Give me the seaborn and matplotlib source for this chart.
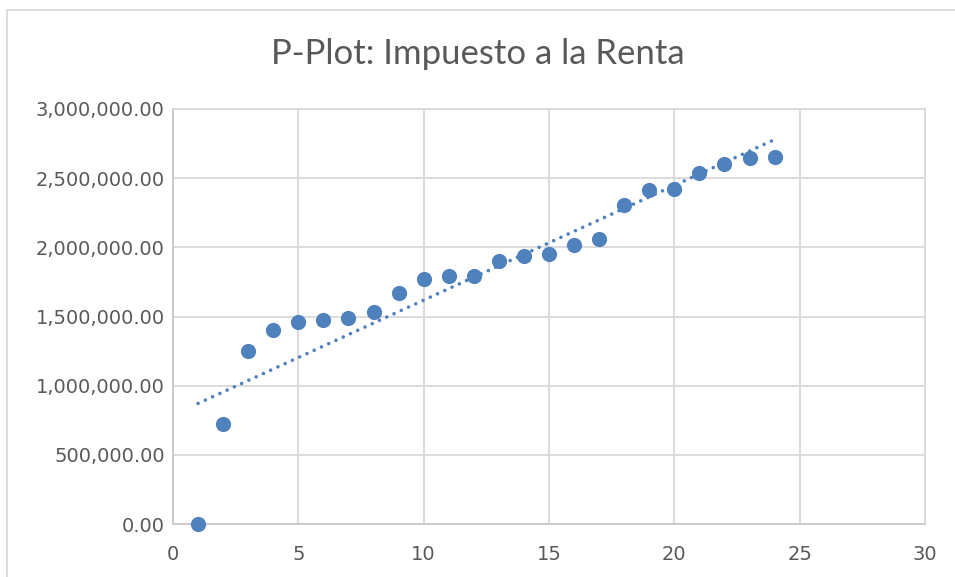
import numpy as np
import pandas as pd
import matplotlib
matplotlib.use('Agg')
import matplotlib.pyplot as plt
from matplotlib.ticker import FuncFormatter, MultipleLocator
from matplotlib.patches import Rectangle
import seaborn as sns

# rank position and tax value
posicion = list(range(1, 25))
impuesto = [0, 720700, 1250000, 1400000, 1460000, 1475000, 1491000, 1532000,
            1668000, 1773000, 1790000, 1795000, 1901000, 1940000, 1954000,
            2019000, 2060000, 2308000, 2414000, 2422000, 2537000, 2602000,
            2643000, 2655000]

df = pd.DataFrame({'pos': posicion, 'renta': impuesto})

sns.set_style('white')
plt.rcParams['font.family'] = ['DejaVu Sans']

blue = '#4f81bd'
grid = '#d9d9d9'
txt = '#595959'

fig = plt.figure(figsize=(9.55, 5.77), dpi=100)
ax = fig.add_axes([173/955, 1-524/577, (925-173)/955, (524-109)/577])

sns.regplot(data=df, x='pos', y='renta', ax=ax, ci=None, truncate=True,
            scatter_kws={'s': 120, 'color': blue, 'alpha': 1, 'linewidths': 0,
                         'clip_on': False, 'zorder': 4},
            line_kws={'color': blue, 'lw': 2.6, 'ls': (0, (0.01, 2.2)),
                      'dash_capstyle': 'round', 'zorder': 3})

ax.set_xlim(0, 30)
ax.set_ylim(0, 3000000)
ax.xaxis.set_major_locator(MultipleLocator(5))
ax.yaxis.set_major_locator(MultipleLocator(500000))
ax.yaxis.set_major_formatter(FuncFormatter(lambda v, p: f'{v:,.2f}'))
ax.grid(True, color=grid, lw=1.3)
ax.set_axisbelow(True)
for s in ax.spines.values():
    s.set_color(grid)
    s.set_linewidth(1.3)
ax.spines['left'].set_color('#c8c8c8')
ax.spines['bottom'].set_color('#c8c8c8')
ax.tick_params(length=0, labelsize=14, colors=txt)
ax.tick_params(axis='y', pad=6)
ax.tick_params(axis='x', pad=15)
ax.set_xlabel('')
ax.set_ylabel('')

fig.text(0.5, 1-54/577, 'P-Plot: Impuesto a la Renta', ha='center', va='center',
         fontsize=25, color=txt, family='Lato')

# chart frame
fig.patches.append(Rectangle((7/955, -0.05), 1.1, 1-10/577+0.05, transform=fig.transFigure,
                             fill=False, ec=grid, lw=1.3))

fig.savefig('out.png', dpi=100)
